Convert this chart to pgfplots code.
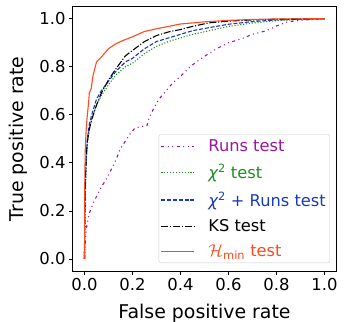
\documentclass[border=0pt]{standalone}
\usepackage{pgfplots}
\pgfplotsset{compat=1.18}
\usepackage{fontspec}
\setmainfont{DejaVu Sans}
\definecolor{cruns}{HTML}{9B179B}
\definecolor{cchi}{HTML}{1E8F1E}
\definecolor{cchir}{HTML}{1A3BB8}
\definecolor{cks}{HTML}{000000}
\definecolor{chmin}{HTML}{FF4A1F}
\begin{document}
\begin{tikzpicture}
\begin{axis}[
  at={(0,0)}, anchor=south west,
  scale only axis, width=264bp, height=264.3bp,
  xmin=-0.05, xmax=1.05, ymin=-0.05, ymax=1.05,
  xtick={0,0.2,0.4,0.6,0.8,1.0}, ytick={0,0.2,0.4,0.6,0.8,1.0},
  xticklabels={0.0,0.2,0.4,0.6,0.8,1.0}, yticklabels={0.0,0.2,0.4,0.6,0.8,1.0},
  tick pos=left, tick align=outside, major tick length=3.5bp,
  tick style={black, line width=0.8bp},
  axis line style={line width=0.8bp},
  ticklabel style={font=\fontsize{16.5}{19}\selectfont},
  /pgf/number format/assume math mode=true,
  xlabel={False positive rate}, ylabel={True positive rate},
  label style={font=\fontsize{19}{22}\selectfont},
  xlabel style={at={(axis description cs:0.5,-0.159)}, anchor=center},
  ylabel style={at={(axis description cs:-0.205,0.5)}, anchor=center, rotate=0},
  legend cell align=left,
  legend style={at={(rel axis cs:0.975,0.03)}, anchor=south east,
    draw=black!20, rounded corners=2bp, fill=white, fill opacity=0.8, text opacity=1,
    font=\fontsize{16.3}{19}\selectfont, row sep=7.5bp, inner xsep=2bp, inner ysep=3bp,
    nodes={inner xsep=2bp}},
  legend image code/.code={\draw[#1,draw=.] (0bp,0bp) -- (33bp,0bp);\path[draw=none] (0bp,0bp) -- (45bp,0bp);},
]
\addplot[color=cruns, line width=1.1bp, dash pattern=on 3bp off 3.5bp on 1bp off 3.5bp on 1bp off 3.5bp] coordinates {
(0,0)(0.002,0.05)(0.005,0.1)(0.01,0.14)(0.02,0.19)(0.035,0.23)(0.05,0.26)(0.07,0.3)(0.09,0.33)(0.11,0.37)(0.13,0.41)(0.15,0.46)(0.17,0.49)(0.19,0.52)(0.21,0.545)(0.23,0.55)(0.26,0.555)(0.27,0.59)(0.29,0.63)(0.31,0.665)(0.34,0.7)(0.37,0.735)(0.4,0.76)(0.44,0.8)(0.48,0.83)(0.51,0.85)(0.55,0.875)(0.6,0.9)(0.65,0.915)(0.7,0.935)(0.75,0.948)(0.78,0.96)(0.8,0.97)(0.84,0.985)(0.87,0.99)(0.92,0.995)(0.96,0.998)(1,1)};
\addlegendentry{\textcolor{cruns}{Runs test}}
\addplot[color=cchi, line width=1.1bp, dash pattern=on 1.1bp off 1.8bp] coordinates {
(0,0)(0.001,0.14)(0.003,0.26)(0.007,0.4)(0.012,0.48)(0.02,0.54)(0.03,0.58)(0.05,0.64)(0.07,0.68)(0.1,0.725)(0.13,0.765)(0.17,0.8)(0.2,0.815)(0.25,0.855)(0.3,0.885)(0.35,0.905)(0.4,0.92)(0.45,0.935)(0.52,0.95)(0.6,0.968)(0.7,0.982)(0.8,0.992)(0.9,0.997)(1,1)};
\addlegendentry{\textcolor{cchi}{{\itshape χ}\textsuperscript{2} test}}
\addplot[color=cchir, line width=1.1bp, dash pattern=on 4bp off 1.8bp] coordinates {
(0,0)(0.001,0.15)(0.003,0.28)(0.007,0.42)(0.012,0.5)(0.02,0.56)(0.03,0.6)(0.05,0.665)(0.07,0.7)(0.1,0.74)(0.13,0.78)(0.17,0.82)(0.2,0.835)(0.25,0.875)(0.3,0.905)(0.35,0.92)(0.4,0.935)(0.45,0.95)(0.52,0.963)(0.6,0.977)(0.7,0.988)(0.8,0.995)(0.9,0.998)(1,1)};
\addlegendentry{\textcolor{cchir}{{\itshape χ}\textsuperscript{2} + Runs test}}
\addplot[color=cks, line width=1.1bp, dash pattern=on 7bp off 1.8bp on 1.1bp off 1.8bp] coordinates {
(0,0)(0.001,0.15)(0.003,0.3)(0.007,0.42)(0.012,0.49)(0.02,0.54)(0.03,0.58)(0.05,0.64)(0.07,0.69)(0.1,0.745)(0.13,0.79)(0.17,0.845)(0.2,0.868)(0.25,0.905)(0.3,0.93)(0.35,0.945)(0.4,0.955)(0.45,0.968)(0.52,0.983)(0.6,0.99)(0.7,0.995)(0.8,0.998)(1,1)};
\addlegendentry{\textcolor{cks}{KS test}}
\addplot[color=chmin, line width=1.1bp] coordinates {
(0,0)(0.001,0.3)(0.003,0.45)(0.006,0.52)(0.01,0.58)(0.013,0.61)(0.017,0.65)(0.02,0.69)(0.028,0.71)(0.035,0.76)(0.045,0.8)(0.05,0.82)(0.07,0.84)(0.1,0.875)(0.13,0.895)(0.15,0.905)(0.2,0.925)(0.25,0.947)(0.3,0.958)(0.35,0.968)(0.4,0.978)(0.5,0.987)(0.6,0.993)(0.7,0.997)(0.8,0.999)(1,1)};
\addlegendentry{\textcolor{chmin}{$\mathcal{H}$\textsubscript{min} test}}
\end{axis}
\pgfresetboundingbox
\path[use as bounding box] (-72.5bp,-51bp) rectangle (271.5bp,271bp);
\end{tikzpicture}
\end{document}
